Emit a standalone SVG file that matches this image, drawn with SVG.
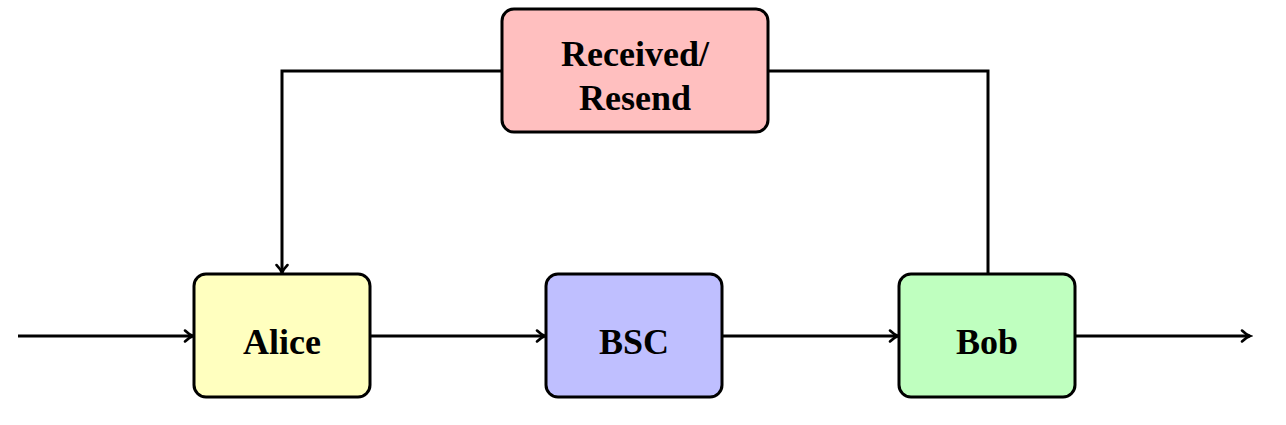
<svg xmlns="http://www.w3.org/2000/svg" width="1286" height="425" viewBox="0 0 1286 425">
<style>
.box{stroke:#000;stroke-width:3}
.lbl{font-family:"Liberation Serif",serif;font-weight:bold;font-size:36px;text-anchor:middle}
.ln{fill:none;stroke:#000;stroke-width:3}
</style>
<defs>
<marker id="ah" markerWidth="14" markerHeight="14" refX="11" refY="7" orient="auto" markerUnits="userSpaceOnUse">
<path d="M3,1.5 Q7,5.5 11,7 Q7,8.5 3,12.5" fill="none" stroke="#000" stroke-width="2.5" stroke-linecap="round"/>
</marker>
</defs>
<rect width="1286" height="425" fill="#fff"/>
<g id="connectors">
<path class="ln" d="M18,336 H193" marker-end="url(#ah)"/>
<path class="ln" d="M370,336 H545" marker-end="url(#ah)"/>
<path class="ln" d="M722,336 H898" marker-end="url(#ah)"/>
<path class="ln" d="M1075,336 H1250" marker-end="url(#ah)"/>
<path class="ln" d="M502,71 H282 V273" marker-end="url(#ah)"/>
<path class="ln" d="M768,71 H988 V274"/>
</g>
<g id="received">
<rect class="box" x="502" y="9" width="266" height="123" rx="12" fill="#ffbfbf"/>
<text class="lbl" x="635" y="66">Received/</text>
<text class="lbl" x="635" y="110">Resend</text>
</g>
<g id="alice">
<rect class="box" x="194" y="274" width="176" height="123" rx="12" fill="#ffffbf"/>
<text class="lbl" x="282" y="354">Alice</text>
</g>
<g id="bsc">
<rect class="box" x="546" y="274" width="176" height="123" rx="12" fill="#bfbfff"/>
<text class="lbl" x="634" y="354">BSC</text>
</g>
<g id="bob">
<rect class="box" x="899" y="274" width="176" height="123" rx="12" fill="#bfffbf"/>
<text class="lbl" x="987" y="354">Bob</text>
</g>
</svg>
